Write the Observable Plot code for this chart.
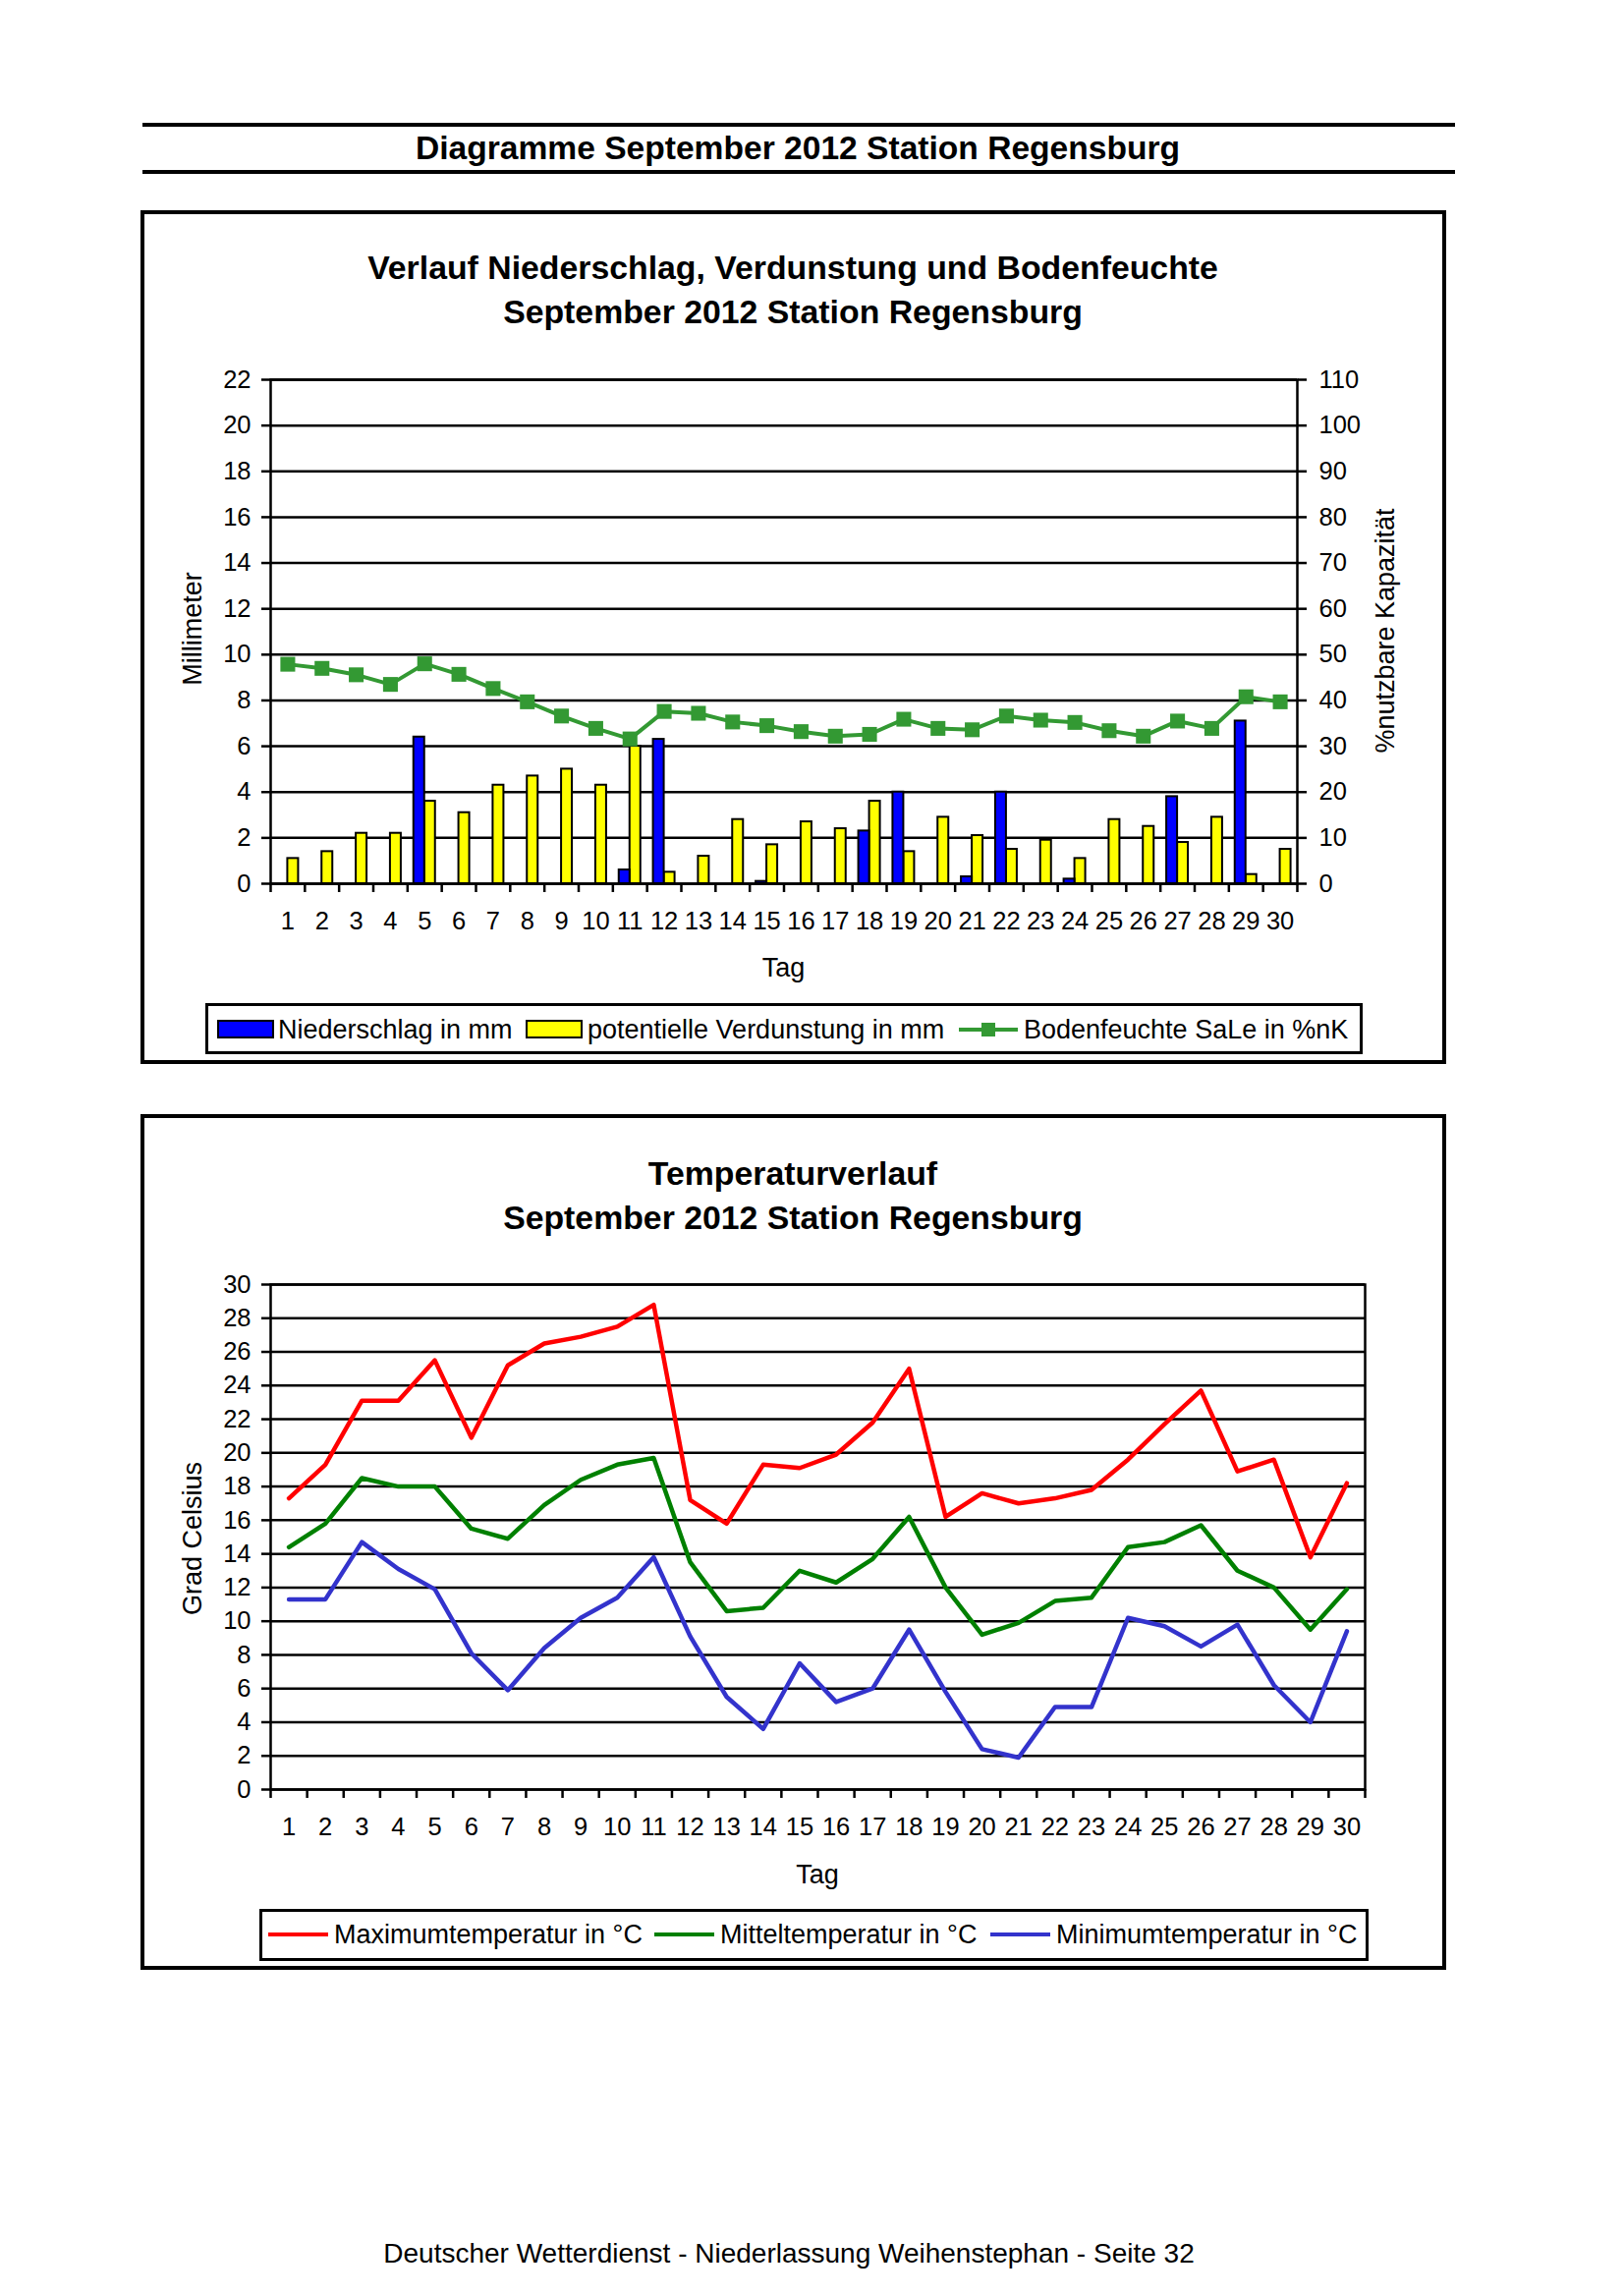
<!DOCTYPE html>
<html>
<head>
<meta charset="utf-8">
<script src="https://cdn.jsdelivr.net/npm/d3@7"></script>
<script src="https://cdn.jsdelivr.net/npm/@observablehq/plot@0.6"></script>
<style>
  html, body { margin: 0; padding: 0; background: white; overflow: hidden; }
  #page { position: relative; width: 1653px; height: 2337px; font-family: "Liberation Sans", Arial, sans-serif; color: black; }
  .abs { position: absolute; }
  .t { position: absolute; white-space: nowrap; line-height: 1; }
  .c { transform: translate(-50%, -50%); }
  .l { transform: translateY(-50%); }
  .r { transform: translate(-50%, -50%) rotate(-90deg); }
  .box { position: absolute; border: 4px solid black; box-sizing: border-box; }
  .legend { position: absolute; border: 3.5px solid black; box-sizing: border-box; }
  .chart { position: absolute; left: 0; width: 1653px; }
</style>
</head>
<body>
<div id="page"></div>
<script>
// ---------- data ----------
const days = [1,2,3,4,5,6,7,8,9,10,11,12,13,14,15,16,17,18,19,20,21,22,23,24,25,26,27,28,29,30];
const niederschlag = [0,0,0,0,6.4,0,0,0,0,0,0.6,6.3,0,0,0.1,0,0,2.3,4.0,0,0.3,4.0,0,0.2,0,0,3.8,0,7.1,0];
const verdunstung = [1.1,1.4,2.2,2.2,3.6,3.1,4.3,4.7,5.0,4.3,6.0,0.5,1.2,2.8,1.7,2.7,2.4,3.6,1.4,2.9,2.1,1.5,1.9,1.1,2.8,2.5,1.8,2.9,0.4,1.5];
const bodenfeuchte = [47.9,47.0,45.6,43.5,48.0,45.7,42.6,39.7,36.6,33.9,31.6,37.6,37.2,35.3,34.5,33.2,32.2,32.6,35.9,33.9,33.6,36.6,35.7,35.2,33.4,32.2,35.5,33.9,40.8,39.7];
const tmax = [17.3,19.3,23.1,23.1,25.5,20.9,25.2,26.5,26.9,27.5,28.8,17.2,15.8,19.3,19.1,19.9,21.8,25.0,16.2,17.6,17.0,17.3,17.8,19.6,21.7,23.7,18.9,19.6,13.8,18.2];
const tmean = [14.4,15.8,18.5,18.0,18.0,15.5,14.9,16.9,18.4,19.3,19.7,13.5,10.6,10.8,13.0,12.3,13.7,16.2,12.0,9.2,9.9,11.2,11.4,14.4,14.7,15.7,13.0,12.0,9.5,11.9];
const tmin = [11.3,11.3,14.7,13.1,11.9,8.1,5.9,8.4,10.2,11.4,13.8,9.1,5.5,3.6,7.5,5.2,6.0,9.5,5.8,2.4,1.9,4.9,4.9,10.2,9.7,8.5,9.8,6.2,4.0,9.4];
const mmTicks = [0,2,4,6,8,10,12,14,16,18,20,22];
const pctTicks = [0,10,20,30,40,50,60,70,80,90,100,110];
const tempTicks = [0,2,4,6,8,10,12,14,16,18,20,22,24,26,28,30];

const rows1 = days.map((d, i) => ({day: d, n: niederschlag[i], v: verdunstung[i], b: bodenfeuchte[i]}));
const rows2 = days.map((d, i) => ({day: d, max: tmax[i], mean: tmean[i], min: tmin[i]}));
const ratio = pctTicks[pctTicks.length - 1] / mmTicks[mmTicks.length - 1];

const FONT = '"Liberation Sans", Arial, sans-serif';
const page = document.getElementById("page");

function el(cls, css, text) {
  const d = document.createElement("div");
  d.className = cls;
  Object.assign(d.style, css);
  if (text != null) d.textContent = text;
  page.appendChild(d);
  return d;
}
function px(v) { return v + "px"; }
function textC(str, cx, cy, size, bold) { return el("t c", {left: px(cx), top: px(cy), fontSize: px(size), fontWeight: bold ? "bold" : "normal"}, str); }
function textL(str, x, cy, size) { return el("t l", {left: px(x), top: px(cy), fontSize: px(size)}, str); }
function textR(str, cx, cy, size) { return el("t r", {left: px(cx), top: px(cy), fontSize: px(size)}, str); }

// ---------- page header ----------
el("abs", {left: "145px", top: "124.5px", width: "1336px", height: "4px", background: "black"});
el("abs", {left: "145px", top: "172.5px", width: "1336px", height: "4px", background: "black"});
textC("Diagramme September 2012 Station Regensburg", 812, 151, 33.6, true);

// ---------- boxes ----------
el("box", {left: "143px", top: "214px", width: "1329px", height: "869px"});
el("box", {left: "143px", top: "1134px", width: "1329px", height: "871px"});

// ---------- chart 1 ----------
textC("Verlauf Niederschlag, Verdunstung und Bodenfeuchte", 807, 273, 33.8, true);
textC("September 2012 Station Regensburg", 807, 318, 33.8, true);
textR("Millimeter", 196, 640, 27);
textR("%nutzbare Kapazität", 1410, 642, 27);
textC("Tag", 797.5, 985, 27);

const ml1 = 275, mr1 = 1653 - 1320, mt1 = 170, mb1 = 117, h1 = 800;
const step1 = (1653 - ml1 - mr1) / days.length;
const barW = 11;
const pad1 = 1 - barW / step1;

const chart1 = Plot.plot({
  width: 1653, height: h1,
  marginLeft: ml1, marginRight: mr1, marginTop: mt1, marginBottom: mb1,
  style: {background: "transparent", fontFamily: FONT, color: "black"},
  x: {type: "band", domain: days, paddingInner: pad1, paddingOuter: pad1 / 2, align: 0.5, round: false},
  y: {domain: [0, 22]},
  marks: [
    Plot.ruleY(mmTicks, {stroke: "black", strokeWidth: 2.5}),
    Plot.barY(rows1.filter(d => d.v > 0), {x: "day", y: "v", fill: "#ffff00", stroke: "black", strokeWidth: 2, dx: barW / 2}),
    Plot.barY(rows1.filter(d => d.n > 0), {x: "day", y: "n", fill: "#0000ff", stroke: "black", strokeWidth: 2, dx: -barW / 2}),
    Plot.line(rows1, {x: "day", y: d => d.b / ratio, stroke: "#339933", strokeWidth: 4}),
    Plot.dot(rows1, {x: "day", y: d => d.b / ratio, symbol: "square", r: 8.5, fill: "#339933", stroke: "none"}),
    Plot.frame({stroke: "black", strokeWidth: 2.5}),
    Plot.axisY(mmTicks, {anchor: "left", tickSize: 9, tickPadding: 11, fontSize: 25.5, strokeWidth: 2.5, label: null}),
    Plot.axisY(mmTicks, {anchor: "right", tickSize: 9, tickPadding: 13, fontSize: 25.5, strokeWidth: 2.5, tickFormat: d => d * ratio, label: null}),
    Plot.axisX(days, {tickSize: 0, tickPadding: 28, fontSize: 25.5, label: null}),
    Plot.ruleX(days, {x: d => d, y1: 0, y2: 0, insetBottom: -9, dx: -step1 / 2, stroke: "black", strokeWidth: 2.5}),
    Plot.ruleX([days[days.length - 1]], {x: d => d, y1: 0, y2: 0, insetBottom: -9, dx: step1 / 2, stroke: "black", strokeWidth: 2.5})
  ]
});
const c1 = el("chart", {top: "216px"});
c1.appendChild(chart1);

// legend 1
el("legend", {left: "209px", top: "1021px", width: "1178px", height: "52px"});
el("abs", {left: "221px", top: "1038px", width: "58px", height: "19px", background: "#0000ff", border: "2px solid black", boxSizing: "border-box"});
textL("Niederschlag in mm", 283, 1047.5, 27);
el("abs", {left: "535px", top: "1038px", width: "58px", height: "19px", background: "#ffff00", border: "2px solid black", boxSizing: "border-box"});
textL("potentielle Verdunstung in mm", 598, 1047.5, 27);
el("abs", {left: "976px", top: "1045.5px", width: "60px", height: "4px", background: "#339933"});
el("abs", {left: "999px", top: "1040.5px", width: "14px", height: "14px", background: "#339933"});
textL("Bodenfeuchte SaLe in %nK", 1042, 1047.5, 27);

// ---------- chart 2 ----------
textC("Temperaturverlauf", 807, 1195, 33.8, true);
textC("September 2012 Station Regensburg", 807, 1240, 33.8, true);
textR("Grad Celsius", 196, 1566, 27);
textC("Tag", 832, 1908, 27);

const ml2 = 275, mr2 = 1653 - 1389, mt2 = 173, mb2 = 100, h2 = 787;
const step2 = (1653 - ml2 - mr2) / days.length;

const chart2 = Plot.plot({
  width: 1653, height: h2,
  marginLeft: ml2, marginRight: mr2, marginTop: mt2, marginBottom: mb2,
  style: {background: "transparent", fontFamily: FONT, color: "black"},
  x: {type: "band", domain: days, padding: 0, round: false},
  y: {domain: [0, 30]},
  marks: [
    Plot.ruleY(tempTicks, {stroke: "black", strokeWidth: 2.5}),
    Plot.frame({stroke: "black", strokeWidth: 2.5}),
    Plot.line(rows2, {x: "day", y: "max", stroke: "#ff0000", strokeWidth: 4.5}),
    Plot.line(rows2, {x: "day", y: "mean", stroke: "#008000", strokeWidth: 4.5}),
    Plot.line(rows2, {x: "day", y: "min", stroke: "#3333cc", strokeWidth: 4.5}),
    Plot.axisY(tempTicks, {anchor: "left", tickSize: 9, tickPadding: 11, fontSize: 25.5, strokeWidth: 2.5, label: null}),
    Plot.axisX(days, {tickSize: 0, tickPadding: 28, fontSize: 25.5, label: null}),
    Plot.ruleX(days, {x: d => d, y1: 0, y2: 0, insetBottom: -9, dx: -step2 / 2, stroke: "black", strokeWidth: 2.5}),
    Plot.ruleX([days[days.length - 1]], {x: d => d, y1: 0, y2: 0, insetBottom: -9, dx: step2 / 2, stroke: "black", strokeWidth: 2.5})
  ]
});
const c2 = el("chart", {top: "1134px"});
c2.appendChild(chart2);

// legend 2
el("legend", {left: "264px", top: "1943px", width: "1129px", height: "53px"});
el("abs", {left: "273px", top: "1967px", width: "61px", height: "4px", background: "#ff0000"});
textL("Maximumtemperatur in °C", 340, 1969, 27);
el("abs", {left: "666px", top: "1967px", width: "61px", height: "4px", background: "#008000"});
textL("Mitteltemperatur in °C", 733, 1969, 27);
el("abs", {left: "1008px", top: "1967px", width: "61px", height: "4px", background: "#3333cc"});
textL("Minimumtemperatur in °C", 1075, 1969, 27);

// ---------- footer ----------
textC("Deutscher Wetterdienst - Niederlassung Weihenstephan - Seite 32", 803, 2294, 28, false);
</script>
</body>
</html>
